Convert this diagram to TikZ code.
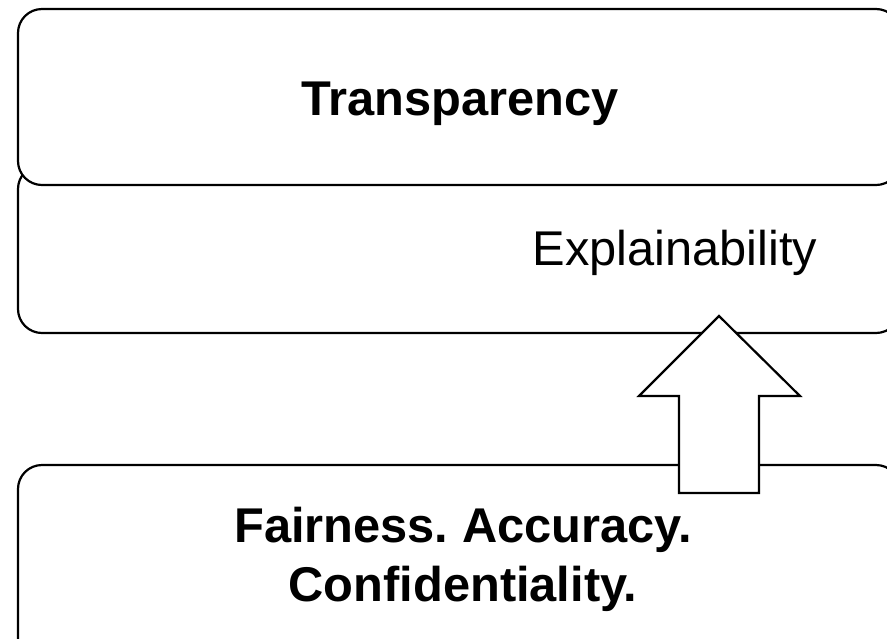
\documentclass[tikz,border=0pt]{standalone}
\usepackage{fontspec}
\setmainfont{Liberation Sans}
\begin{document}
\frenchspacing
\begin{tikzpicture}
      [x=0.5pt, y=-0.5pt,
      box/.style={draw=black, line width=1.1pt, rounded corners=12pt, fill=white},
      txt/.style={font=\fontsize{24.4}{29.5}\selectfont, align=center, inner sep=0pt},
      bold txt/.style={txt, font=\fontsize{24.4}{29.5}\selectfont\bfseries},
      uparrow/.style={draw=black, line width=1.1pt, fill=white},
      ]
      \useasboundingbox (0,0) rectangle (887,638);
      \clip (0,0) rectangle (887,638);
      % three layers, bottom first
      \draw[box] (18,465) rectangle (900,670);
      \draw[box] (18,165) rectangle (900,333);
      \draw[box] (18,9) rectangle (900,185);
      \node[bold txt, anchor=base] (transparency) at (460,115) {Transparency};
      \node[txt, anchor=base] (explain) at (675,265) {Explainability};
      \node[bold txt] (fair) at (463,559) {Fairness. Accuracy.\\ Confidentiality.};
      % block arrow
      \draw[uparrow] (719,316) -- (800,396) -- (759,396) -- (759,493)
        -- (679,493) -- (679,396) -- (639,396) -- cycle;
      \end{tikzpicture}
\end{document}
